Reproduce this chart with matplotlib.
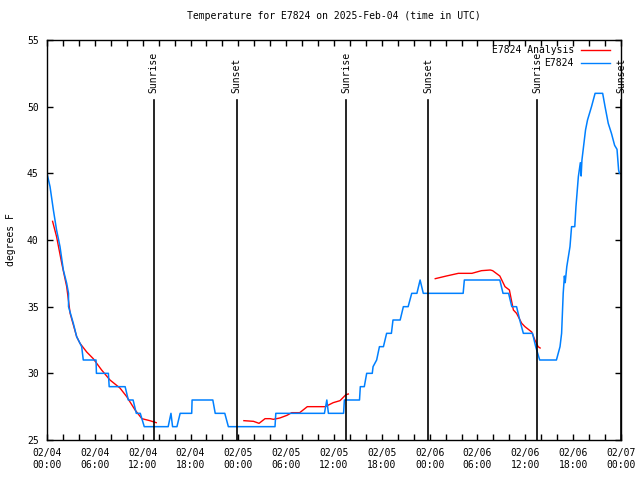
import matplotlib
matplotlib.use('Agg')
import matplotlib.pyplot as plt

# hours since 2025-02-04 00:00 UTC
obs_hours = [0, 0.38, 0.8, 1.2, 1.63, 2.05, 2.47, 2.7, 2.7, 3.3, 3.72, 4.35, 4.55, 6.15, 6.2, 7.7, 7.8,
             9.8, 10.2, 10.8, 11.2, 11.7, 12.2, 15.2, 15.55, 15.75, 16.3, 16.7, 18.15, 18.2, 20.8, 21.1,
             22.3, 22.75, 28.6, 28.7, 34.8, 35.1, 35.3, 37.2, 37.3, 39.2, 39.3, 39.8, 40.1, 40.8, 40.9,
             41.35, 41.7, 42.2, 42.6, 43.2, 43.4, 44.3, 44.7, 45.3, 45.75, 46.4, 46.8, 47.2, 52.2, 52.35,
             56.8, 57.2, 57.9, 58.3, 58.9, 59.3, 59.75, 60.9, 61.3, 61.8, 63.9, 64.35, 64.55, 64.75, 64.9,
             65.0, 65.2, 65.6, 65.8, 66.2, 66.35, 66.65, 66.9, 67.0, 67.1, 67.3, 67.55, 67.8, 68.3, 68.75,
             69.7, 70.0, 70.4, 70.8, 71.2, 71.5, 71.7, 71.8]
obs_temps = [45, 44.0, 42.25, 40.75, 39.5, 37.75, 36.75, 36, 35, 33.75, 32.75, 32, 31, 31, 30, 30, 29,
             29, 28, 28, 27, 27, 26, 26, 27, 26, 26, 27, 27, 28, 28, 27,
             27, 26, 26, 27, 27, 28, 27, 27, 28, 28, 29, 29, 30, 30, 30.5,
             31, 32, 32, 33, 33, 34, 34, 35, 35, 36, 36, 37, 36, 36, 37,
             37, 36, 36, 35, 35, 34, 33, 33, 32, 31, 31, 32, 33, 36, 37.3,
             36.8, 38, 39.5, 41, 41, 42.5, 44.75, 45.8, 44.8, 46, 47, 48.25, 49, 50, 51,
             51, 50, 48.75, 48, 47.1, 46.8, 45.25, 45]

# analysis series, three separate runs
ana1_hours = [0.7, 1.2, 1.85, 2.47, 2.9, 3.72, 4.14, 4.98, 5.8, 6.85, 7.9, 9.15, 10.0, 11.05, 11.9, 12.9, 13.7]
ana1_temps = [41.4, 40.25, 38.25, 36.5, 34.5, 32.75, 32.25, 31.6, 31.1, 30.25, 29.5, 28.9, 28.25, 27.25, 26.6, 26.45, 26.3]
ana2_hours = [24.7, 25.9, 26.6, 27.35, 28.0, 28.4, 29.2, 30.1, 30.7, 31.7, 32.65, 34.9, 35.9, 36.75, 37.5, 37.8]
ana2_temps = [26.45, 26.4, 26.25, 26.6, 26.6, 26.55, 26.65, 26.85, 27.05, 27.05, 27.5, 27.5, 27.8, 27.95, 28.4, 28.45]
ana3_hours = [48.7, 50.1, 51.6, 53.3, 54.5, 55.6, 55.9, 56.8, 57.45, 58.0, 58.5, 58.9, 59.55, 59.95, 60.8, 61.2, 61.6, 61.85]
ana3_temps = [37.1, 37.3, 37.5, 37.5, 37.7, 37.75, 37.7, 37.3, 36.5, 36.25, 34.75, 34.5, 33.75, 33.5, 33.1, 32.5, 32.0, 31.9]

sun_hours = [13.4, 23.8, 37.5, 47.8, 61.5, 72.0]
sun_labels = ['Sunrise', 'Sunset', 'Sunrise', 'Sunset', 'Sunrise', 'Sunset']

xtick_hours = [0, 6, 12, 18, 24, 30, 36, 42, 48, 54, 60, 66, 72]
xtick_labels = ['02/04\n00:00', '02/04\n06:00', '02/04\n12:00', '02/04\n18:00',
                '02/05\n00:00', '02/05\n06:00', '02/05\n12:00', '02/05\n18:00',
                '02/06\n00:00', '02/06\n06:00', '02/06\n12:00', '02/06\n18:00',
                '02/07\n00:00']

plt.rcParams['font.family'] = 'DejaVu Sans Mono'
plt.rcParams['font.size'] = 7

fig = plt.figure(figsize=(6.4, 4.8), dpi=100)
ax = fig.add_axes([47 / 640, 40 / 480, 574 / 640, 400 / 480])

red = '#ff0000'
blue = '#0080ff'
ax.plot(ana1_hours, ana1_temps, color=red, lw=1)
ax.plot(ana2_hours, ana2_temps, color=red, lw=1)
ax.plot(ana3_hours, ana3_temps, color=red, lw=1)
ax.plot(obs_hours, obs_temps, color=blue, lw=1.1)

for h, lab in zip(sun_hours, sun_labels):
    ax.plot([h, h], [25, 50.5], color='black', lw=1.2, clip_on=False)
    ax.text(h, 51.0, lab, rotation=90, ha='center', va='bottom', fontsize=7, clip_on=False)

ax.set_xlim(0, 72)
ax.set_ylim(25, 55)
ax.set_xticks(xtick_hours)
ax.set_xticklabels(xtick_labels)
ax.set_xticks(range(0, 73, 2), minor=True)
ax.set_yticks([25, 30, 35, 40, 45, 50, 55])
ax.tick_params(which='both', direction='in', top=True, right=True, length=4, width=1)
ax.tick_params(axis='x', pad=6)
ax.tick_params(axis='y', pad=6)
ax.set_ylabel('degrees F', labelpad=8)
for s in ax.spines.values():
    s.set_linewidth(1)

ax.set_title('Temperature for E7824 on 2025-Feb-04 (time in UTC)', fontsize=7, pad=15)

# key, gnuplot style
ax.text(0.918, 0.975, 'E7824 Analysis', ha='right', va='center', transform=ax.transAxes)
ax.plot([0.930, 0.981], [0.975, 0.975], color=red, lw=1, transform=ax.transAxes)
ax.text(0.918, 0.9425, 'E7824', ha='right', va='center', transform=ax.transAxes)
ax.plot([0.930, 0.981], [0.9425, 0.9425], color=blue, lw=1, transform=ax.transAxes)

fig.savefig('out.png', dpi=100)
